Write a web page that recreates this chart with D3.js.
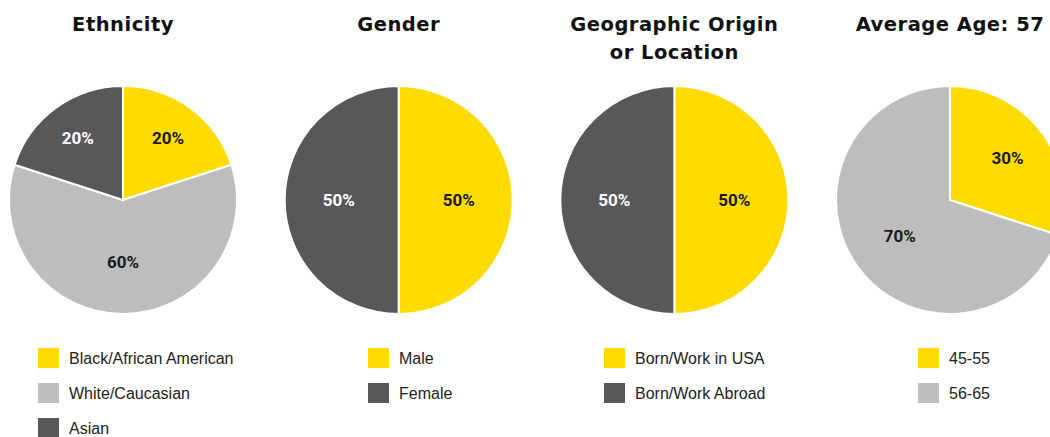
<!DOCTYPE html>
<html>
<head>
<meta charset="utf-8">
<script src="https://cdn.jsdelivr.net/npm/d3@7"></script>
<style>
  html, body { margin: 0; padding: 0; background: #fff; overflow: hidden; }
  svg { display: block; }
  .title { font-family: "DejaVu Sans", sans-serif; font-weight: bold; font-size: 19.5px; fill: #111; letter-spacing: 0.5px; }
  .pct { font-family: "Roboto", "DejaVu Sans", sans-serif; font-weight: bold; font-size: 17px; }
  .legend text { font-family: "Liberation Sans", Arial, sans-serif; font-size: 16px; fill: #222; }
</style>
</head>
<body>
<svg width="1050" height="437"></svg>
<script>
// chart data
const titles = [["Ethnicity"], ["Gender"], ["Geographic Origin", "or Location"], ["Average Age: 57"]];

const ethnicityLabels = ["Black/African American", "White/Caucasian", "Asian"];
const ethnicityValues = [20, 60, 20];

const genderLabels = ["Male", "Female"];
const genderValues = [50, 50];

const originLabels = ["Born/Work in USA", "Born/Work Abroad"];
const originValues = [50, 50];

const ageLabels = ["45-55", "56-65"];
const ageValues = [30, 70];

const YELLOW = "#FFDB00", DARK = "#58585A", LIGHT = "#BCBDBC";

const charts = [
  { labels: ethnicityLabels, values: ethnicityValues, colors: [YELLOW, LIGHT, DARK], legendX: 38 },
  { labels: genderLabels, values: genderValues, colors: [YELLOW, DARK], legendX: 368 },
  { labels: originLabels, values: originValues, colors: [YELLOW, DARK], legendX: 604 },
  { labels: ageLabels, values: ageValues, colors: [YELLOW, LIGHT], legendX: 918 }
];

const svg = d3.select("svg");
const R = 114, cy = 200;
const x = d3.scalePoint().domain(d3.range(charts.length)).range([123, 950]);

const pie = d3.pie().sort(null);
const arc = d3.arc().innerRadius(0).outerRadius(R);
// small slices get their label pushed further out
const labelRadius = frac => (frac <= 0.5 ? 88 - 56 * frac : 62);

charts.forEach((c, i) => {
  const g = svg.append("g").attr("transform", `translate(${x(i)},${cy})`);
  const total = d3.sum(c.values);
  const arcs = pie(c.values);

  g.selectAll("path")
    .data(arcs)
    .enter()
    .append("path")
    .attr("d", arc)
    .attr("fill", (d, j) => c.colors[j])
    .attr("stroke", "#fff")
    .attr("stroke-width", 2);

  g.selectAll("text")
    .data(arcs)
    .enter()
    .append("text")
    .attr("class", "pct")
    .attr("transform", d => {
      const r = labelRadius(d.data / total);
      return `translate(${d3.arc().innerRadius(r).outerRadius(r).centroid(d)})`;
    })
    .attr("text-anchor", "middle")
    .attr("dy", "0.35em")
    .attr("fill", (d, j) => (c.colors[j] === DARK ? "#fff" : "#1a1a1a"))
    .text(d => d.data + "%");

  // title
  svg.append("text")
    .attr("class", "title")
    .attr("text-anchor", "middle")
    .attr("x", x(i))
    .attr("y", 31)
    .selectAll("tspan")
    .data(titles[i])
    .enter()
    .append("tspan")
    .attr("x", x(i))
    .attr("dy", (d, k) => (k ? 28 : 0))
    .text(d => d);

  // legend
  const lg = svg.append("g").attr("class", "legend");
  const row = lg.selectAll("g")
    .data(c.labels)
    .enter()
    .append("g")
    .attr("transform", (d, k) => `translate(${c.legendX},${348 + k * 35})`);
  row.append("rect")
    .attr("width", 21)
    .attr("height", 20)
    .attr("fill", (d, k) => c.colors[k]);
  row.append("text")
    .attr("x", 31)
    .attr("y", 10)
    .attr("dy", "0.35em")
    .text(d => d);
});
</script>
</body>
</html>
